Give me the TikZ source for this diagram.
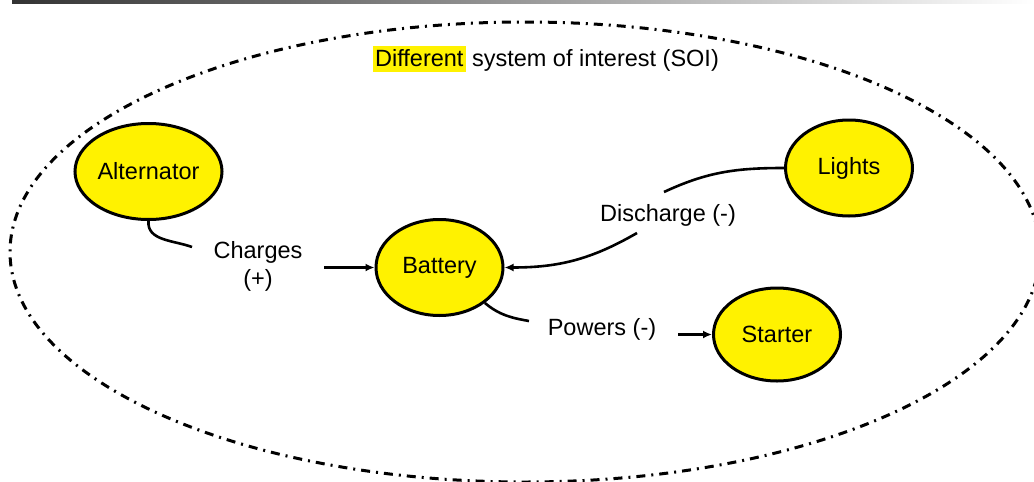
\documentclass[tikz,border=0pt]{standalone}
\usepackage{fontspec}
\setmainfont{Liberation Sans}
\usetikzlibrary{shapes.geometric, arrows.meta, positioning}
\setlength{\fboxsep}{2pt}

\begin{document}
\begin{tikzpicture}[
    x=1pt, y=-1pt,
    every node/.style={font=\fontsize{23.5}{28}\selectfont},
    part/.style={
        ellipse,
        draw=black,
        line width=3pt,
        fill=yellow,
        minimum width=127pt,
        minimum height=96pt,
        inner sep=0pt
    },
    link/.style={
        line width=2.6pt,
        black
    },
    arrow/.style={
        -{Latex[length=9pt,width=8pt]},
        line width=2.6pt,
        black
    },
    edgelabel/.style={
        inner sep=0pt,
        align=center
    },
    boundary/.style={
        line width=3pt,
        dash pattern=on 9pt off 6pt on 2pt off 6pt
    }
]

\useasboundingbox (0,0) rectangle (1034,482);

% ============================================
% Header bar and SOI boundary
% ============================================
\shade[left color=black!80, right color=white] (12,0) rectangle (1034,3.5);

\draw[boundary] (525,252) ellipse [x radius=515pt, y radius=230pt];

\node[edgelabel, anchor=base] (soi) at (546,66) {\colorbox{yellow}{\rule[-4pt]{0pt}{22pt}Different} system of interest (SOI)};

% ============================================
% Parts
% ============================================
\node[part, minimum width=147pt] (alt) at (148.5,171.5) {Alternator};
\node[part] (bat) at (439.5,267.5) {Battery};
\node[part] (lights) at (849,168) {Lights};
\node[part, minimum height=93pt] (starter) at (777,334.5) {Starter};

% ============================================
% Relations
% ============================================
\node[edgelabel] (charges) at (258,266) {Charges\\(+)};
\node[edgelabel, anchor=base] (discharge) at (668,221) {Discharge (-)};
\node[edgelabel, anchor=base] (powers) at (602,335) {Powers (-)};

\coordinate (chg-in) at (192,247);
\coordinate (chg-out) at (324,267.5);
\coordinate (dis-in) at (664,192);
\coordinate (dis-out) at (637,233);
\coordinate (pow-in) at (529,321);
\coordinate (pow-out) at (678,334.5);

\draw[link] (alt.south) to[out=-95, in=160] (chg-in);
\draw[arrow] (chg-out) -- (bat.west);
\draw[link] (lights.west) to[out=180, in=25] (dis-in);
\draw[arrow] (dis-out) to[out=210, in=0] (bat.east);
\draw[link] (bat.-38) to[out=-40, in=170] (pow-in);
\draw[arrow] (pow-out) -- (starter.west);

\end{tikzpicture}
\end{document}
